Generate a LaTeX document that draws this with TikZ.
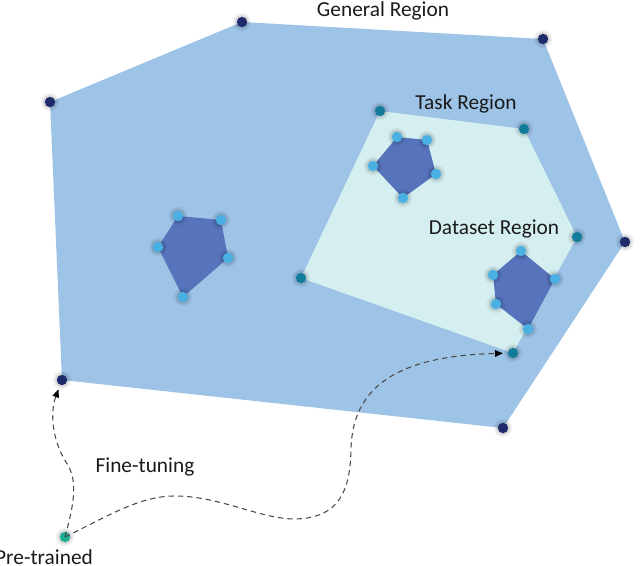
\documentclass[tikz,border=0pt]{standalone}
\usepackage{fontspec}
\setmainfont{Carlito}
\usetikzlibrary{arrows.meta}
\definecolor{genblue}{HTML}{9DC3E6}
\definecolor{taskcyan}{HTML}{D5EEF0}
\definecolor{dsblue}{HTML}{5673BB}
\definecolor{dotnavy}{HTML}{1F2A6B}
\definecolor{dotteal}{HTML}{137C9A}
\definecolor{dotlight}{HTML}{4AB0E3}
\definecolor{dotgreen}{HTML}{1AAF8F}
\definecolor{dashgray}{HTML}{4A4A4A}
\definecolor{txt}{HTML}{1A1A1A}
\newcommand{\mydot}[3]{%
  \coordinate (#1) at (#2);
  \fill[black,opacity=.06] (#1) circle (6.8pt);
  \fill[black,opacity=.10] (#1) circle (5.2pt);
  \fill[#3] (#1) circle (3.9pt);
}
\tikzset{
  lbl/.style={font=\fontsize{16}{19}\selectfont, text=txt, inner sep=0pt},
  dashconn/.style={draw=dashgray, line width=0.8pt, dash pattern=on 4pt off 3pt,
    -{Triangle[length=6pt,width=5pt,color=black]}}
}
\begin{document}
\begin{tikzpicture}[x=0.75pt,y=-0.75pt]
\useasboundingbox (0,0) rectangle (640,565);
\clip (0,0) rectangle (640,565);
% general region
\fill[genblue] (242,22) -- (543,39) -- (625,242) -- (503,428) -- (62,380) -- (50,102) -- cycle;
% task region
\fill[taskcyan] (380,111) -- (524,129) -- (577,237) -- (513,353) -- (301,278) -- cycle;
% dataset regions
\fill[dsblue] (178,216) -- (221,220) -- (228,258) -- (183,297) -- (158,247) -- cycle;
\fill[dsblue] (397,137) -- (427,140) -- (436,174) -- (403,198) -- (373,166) -- cycle;
\fill[dsblue] (521,251) -- (555,279) -- (528,329) -- (496,304) -- (493,275) -- cycle;
% general dots
\mydot{g1}{242,22}{dotnavy}
\mydot{g2}{543,39}{dotnavy}
\mydot{g3}{625,242}{dotnavy}
\mydot{g4}{503,428}{dotnavy}
\mydot{g5}{62,380}{dotnavy}
\mydot{g6}{50,102}{dotnavy}
% task dots
\mydot{t1}{380,111}{dotteal}
\mydot{t2}{524,129}{dotteal}
\mydot{t3}{577,237}{dotteal}
\mydot{t4}{513,353}{dotteal}
\mydot{t5}{301,278}{dotteal}
% dataset dots
\mydot{a1}{178,216}{dotlight}
\mydot{a2}{221,220}{dotlight}
\mydot{a3}{228,258}{dotlight}
\mydot{a4}{183,297}{dotlight}
\mydot{a5}{158,247}{dotlight}
\mydot{b1}{397,137}{dotlight}
\mydot{b2}{427,140}{dotlight}
\mydot{b3}{436,174}{dotlight}
\mydot{b4}{403,198}{dotlight}
\mydot{b5}{373,166}{dotlight}
\mydot{c1}{521,251}{dotlight}
\mydot{c2}{555,279}{dotlight}
\mydot{c3}{528,329}{dotlight}
\mydot{c4}{496,304}{dotlight}
\mydot{c5}{493,275}{dotlight}
% pre-trained
\mydot{pre}{65,537}{dotgreen}
% labels
\node[lbl] (lgen) at (383,11) {General Region};
\node[lbl] (ltask) at (466,104) {Task Region};
\node[lbl] (lds) at (494,229) {Dataset Region};
\node[lbl] (lft) at (145,467) {Fine-tuning};
\node[lbl] (lpre) at (44,557) {Pre-trained};
% connectors
\draw[dashconn, shorten >=7.5pt] (pre) .. controls (72,510) and (80,482) .. (66,462)
  .. controls (52,440) and (50,412) .. (g5);
\draw[dashconn, shorten >=7.5pt] (pre) .. controls (110,515) and (140,496) .. (175,496)
  .. controls (220,496) and (260,519) .. (295,519)
  .. controls (340,518) and (350,490) .. (351,450)
  .. controls (352,385) and (400,356) .. (t4);
\end{tikzpicture}
\end{document}
